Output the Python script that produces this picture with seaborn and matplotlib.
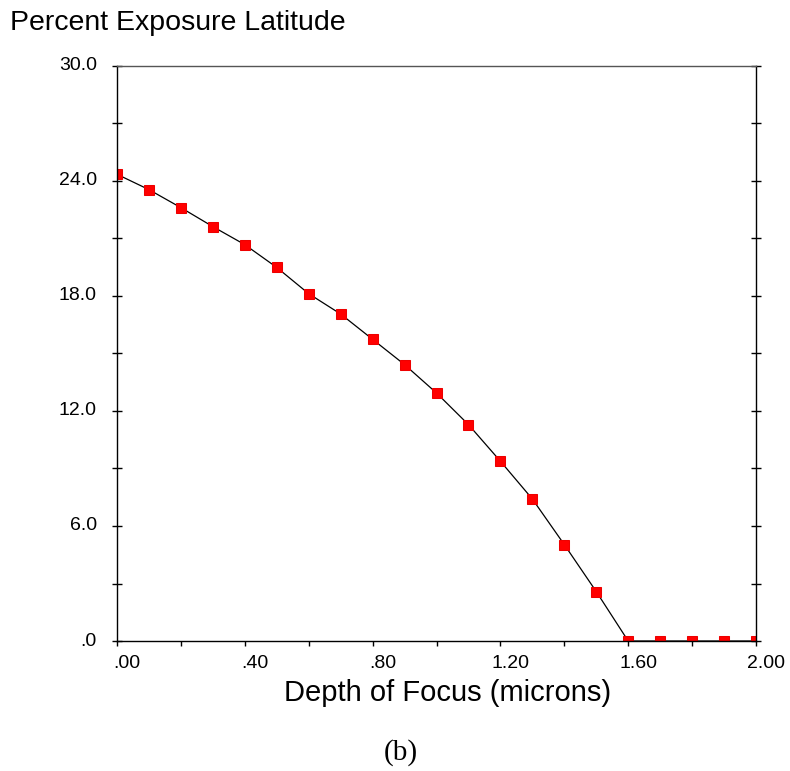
import matplotlib
matplotlib.use("Agg")
import matplotlib.pyplot as plt
import matplotlib.transforms as mtransforms
import seaborn as sns
import pandas as pd
from matplotlib.ticker import MultipleLocator, FixedLocator

depth = [0.0, 0.1, 0.2, 0.3, 0.4, 0.5, 0.6, 0.7, 0.8, 0.9, 1.0,
         1.1, 1.2, 1.3, 1.4, 1.5, 1.6, 1.7, 1.8, 1.9, 2.0]
latitude = [24.35, 23.55, 22.61, 21.62, 20.68, 19.49, 18.12, 17.06, 15.74, 14.42, 12.94,
            11.29, 9.38, 7.41, 5.03, 2.58, 0.0, 0.0, 0.0, 0.0, 0.0]
xtick_vals = [0.0, 0.4, 0.8, 1.2, 1.6, 2.0]
xtick_labels = [".00", ".40", ".80", "1.20", "1.60", "2.00"]
ytick_vals = [0, 6, 12, 18, 24, 30]
ytick_labels = [".0", "6.0", "12.0", "18.0", "24.0", "30.0"]

df = pd.DataFrame({"depth": depth, "latitude": latitude})

sns.set_style("white")
plt.rcParams['font.family'] = ['Liberation Sans', 'DejaVu Sans']
plt.rcParams['text.color'] = 'black'
plt.rcParams['xtick.color'] = 'black'
plt.rcParams['ytick.color'] = 'black'

fig = plt.figure(figsize=(7.9, 7.71), dpi=100)
ax = fig.add_axes([117/790, 130/771, 639/790, 575/771])

sns.lineplot(data=df, x="depth", y="latitude", ax=ax, color="black", linewidth=0.9,
             marker="s", markersize=7, markerfacecolor="#ff0000", markeredgecolor="#ee0000")

ax.set_xlim(0, 2.0)
ax.set_ylim(0, 30)
ax.xaxis.set_major_locator(FixedLocator(xtick_vals))
ax.set_xticklabels(xtick_labels)
ax.xaxis.set_minor_locator(MultipleLocator(0.2))
ax.yaxis.set_major_locator(FixedLocator(ytick_vals))
ax.set_yticklabels(ytick_labels)
ax.yaxis.set_minor_locator(MultipleLocator(3))

ax.tick_params(axis="y", which="both", direction="inout", length=7.2, width=1,
               left=True, right=True, labelsize=14, pad=11, labelcolor="black")
ax.tick_params(axis="x", which="both", direction="out", length=3.8, width=1,
               top=False, bottom=True, labelsize=14, pad=6, labelcolor="black")

# labels sit slightly right of their ticks in the reference
offset = mtransforms.ScaledTranslation(10/100, 0, fig.dpi_scale_trans)
for lab in ax.get_xticklabels():
    lab.set_transform(lab.get_transform() + offset)
yoff = mtransforms.ScaledTranslation(0, 2/100, fig.dpi_scale_trans)
for lab in ax.get_yticklabels():
    lab.set_transform(lab.get_transform() + yoff)

for s in ax.spines.values():
    s.set_visible(True)
    s.set_color("black")
    s.set_linewidth(1)
ax.spines["top"].set_color("#555555")

ax.set_xlabel("")
ax.set_ylabel("")
fig.text(448/790, 1 - 701/771, "Depth of Focus (microns)", fontsize=21,
         va="baseline", ha="center", color="black")
fig.text(10/790, 1 - 30/771, "Percent Exposure Latitude", fontsize=20.5,
         va="baseline", ha="left", color="black")
fig.text(401/790, 1 - 760/771, "(b)", fontsize=21, va="baseline", ha="center",
         family=["Liberation Serif", "DejaVu Serif"], color="black")

fig.savefig("out.png", dpi=100, facecolor="white")
